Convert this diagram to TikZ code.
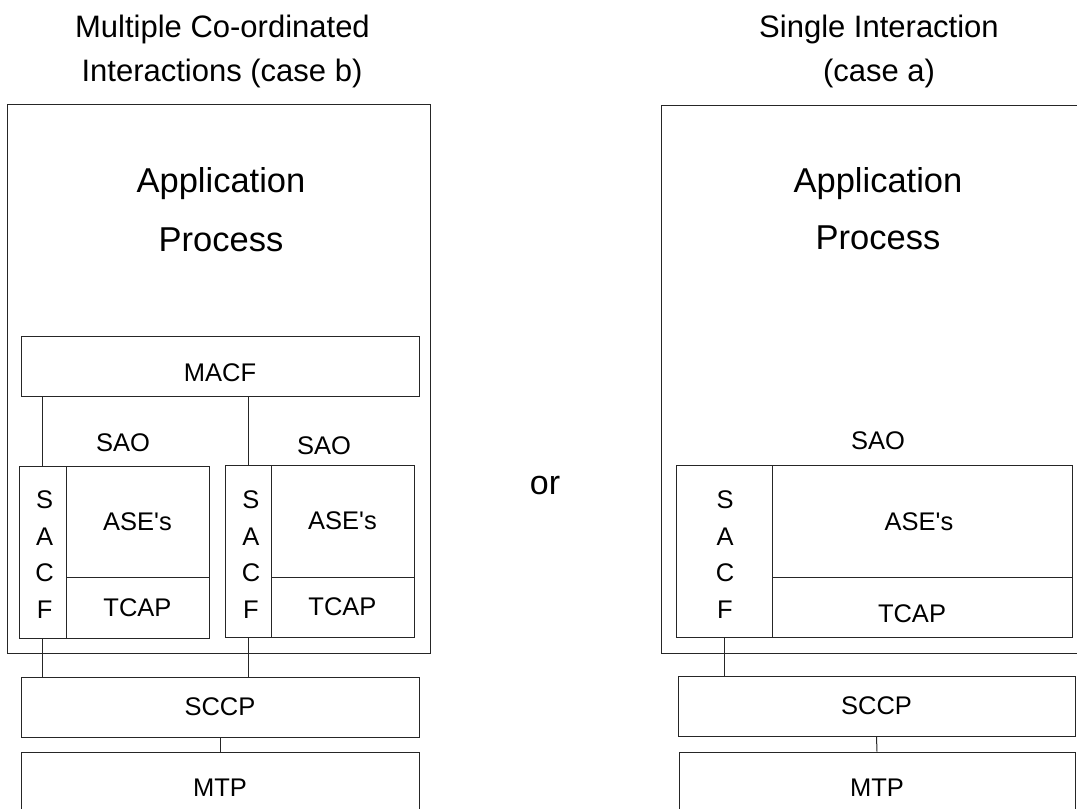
\documentclass[tikz,border=0pt]{standalone}
\usepackage{fontspec}
\setmainfont{Liberation Sans}
\newcommand{\asetext}{ASE\textquotesingle s}
\begin{document}
\begin{tikzpicture}[x=1pt,y=1pt,
  box/.style={draw=black!85, line width=1pt, rectangle, inner sep=0pt, font=\fontsize{25.5}{30}\selectfont},
  lbl/.style={inner sep=0pt, anchor=base, font=\fontsize{25.5}{30}\selectfont},
  ttl/.style={inner sep=0pt, anchor=base, font=\fontsize{31}{36}\selectfont},
  big/.style={inner sep=0pt, anchor=base, font=\fontsize{34.5}{40}\selectfont},
  sacfstyle/.style={box, align=center, font=\fontsize{25.5}{36.5}\selectfont},
  conn/.style={draw=black!85, line width=1pt}]
\clip (0,0) rectangle (1077,-809);
\fill[white] (0,0) rectangle (1077,-809);
% titles
\node[ttl] (t1a) at (222.5,-37) {Multiple Co-ordinated};
\node[ttl] (t1b) at (222,-81.5) {Interactions (case b)};
\node[ttl] (t2a) at (879,-37) {Single Interaction};
\node[ttl] (t2b) at (879,-81.5) {(case a)};
% ---------- left (case b) ----------
\node[box, minimum width=423, minimum height=549] (ap1) at (218.5,-378.5) {};
\node[big] (ap1a) at (221,-192) {Application};
\node[big] (ap1b) at (221,-251) {Process};
\node[box, minimum width=398, minimum height=60] (macf) at (220,-366) {};
\node[lbl] (macflbl) at (220,-381) {MACF};
\node[box, minimum width=190, minimum height=172] (sao1) at (114,-552) {};
\node[box, minimum width=143, minimum height=111] (ase1) at (137.5,-521.5) {\asetext};
\node[box, minimum width=143, minimum height=61] (tcap1) at (137.5,-607.5) {TCAP};
\node[sacfstyle, minimum width=47, minimum height=172] (sacf1) at (42.5,-552) {};
\node[inner sep=0pt, align=center, font=\fontsize{25.5}{36.5}\selectfont] (sacf1t) at (44.7,-554.5) {S\\A\\C\\F};
\node[box, minimum width=189, minimum height=172] (sao2) at (319.5,-551) {};
\node[box, minimum width=143, minimum height=112] (ase2) at (342.5,-521) {\asetext};
\node[box, minimum width=143, minimum height=60] (tcap2) at (342.5,-607) {TCAP};
\node[sacfstyle, minimum width=46, minimum height=172] (sacf2) at (248,-551) {};
\node[inner sep=0pt, align=center, font=\fontsize{25.5}{36.5}\selectfont] (sacf2t) at (251,-554.5) {S\\A\\C\\F};
\node[lbl] (sao1lbl) at (123,-451) {SAO};
\node[lbl] (sao2lbl) at (324,-454) {SAO};
\node[box, minimum width=398, minimum height=60] (sccp1) at (220,-707) {SCCP};
\node[box, minimum width=398, minimum height=68] (mtp1) at (220,-786) {};
\node[lbl] (mtp1lbl) at (220,-796) {MTP};
\draw[conn] (sacf1.north) -- (sacf1.north |- macf.south);
\draw[conn] (sacf2.north) -- (sacf2.north |- macf.south);
\draw[conn] (sacf1.south) -- (sacf1.south |- sccp1.north);
\draw[conn] (sacf2.south) -- (sacf2.south |- sccp1.north);
\draw[conn] (sccp1.south) -- (mtp1.north);
% ---------- or ----------
\node[inner sep=0pt, anchor=base, font=\fontsize{34}{40}\selectfont] (or) at (545,-494) {or};
% ---------- right (case a) ----------
\node[box, minimum width=429, minimum height=548] (ap2) at (875.5,-379) {};
\node[big] (ap2a) at (878,-192) {Application};
\node[big] (ap2b) at (878,-249) {Process};
\node[lbl] (sao3lbl) at (878,-449) {SAO};
\node[box, minimum width=396, minimum height=172] (sao3) at (874,-551) {};
\node[box, minimum width=300, minimum height=112] (ase3) at (922,-521) {};
\node[lbl] (ase3lbl) at (919,-530) {\asetext};
\node[box, minimum width=300, minimum height=60] (tcap3) at (922,-607) {};
\node[lbl] (tcap3lbl) at (912,-622) {TCAP};
\node[sacfstyle, minimum width=96, minimum height=172] (sacf3) at (724,-551) {};
\node[inner sep=0pt, align=center, font=\fontsize{25.5}{36.5}\selectfont] (sacf3t) at (725,-554.5) {S\\A\\C\\F};
\node[box, minimum width=397, minimum height=60] (sccp2) at (876.5,-706) {SCCP};
\node[box, minimum width=396, minimum height=68] (mtp2) at (877,-786) {};
\node[lbl] (mtp2lbl) at (877,-796) {MTP};
\draw[conn] (sacf3.south) -- (sacf3.south |- sccp2.north);
\draw[conn] (sccp2.south) -- (mtp2.north);
\end{tikzpicture}
\end{document}
